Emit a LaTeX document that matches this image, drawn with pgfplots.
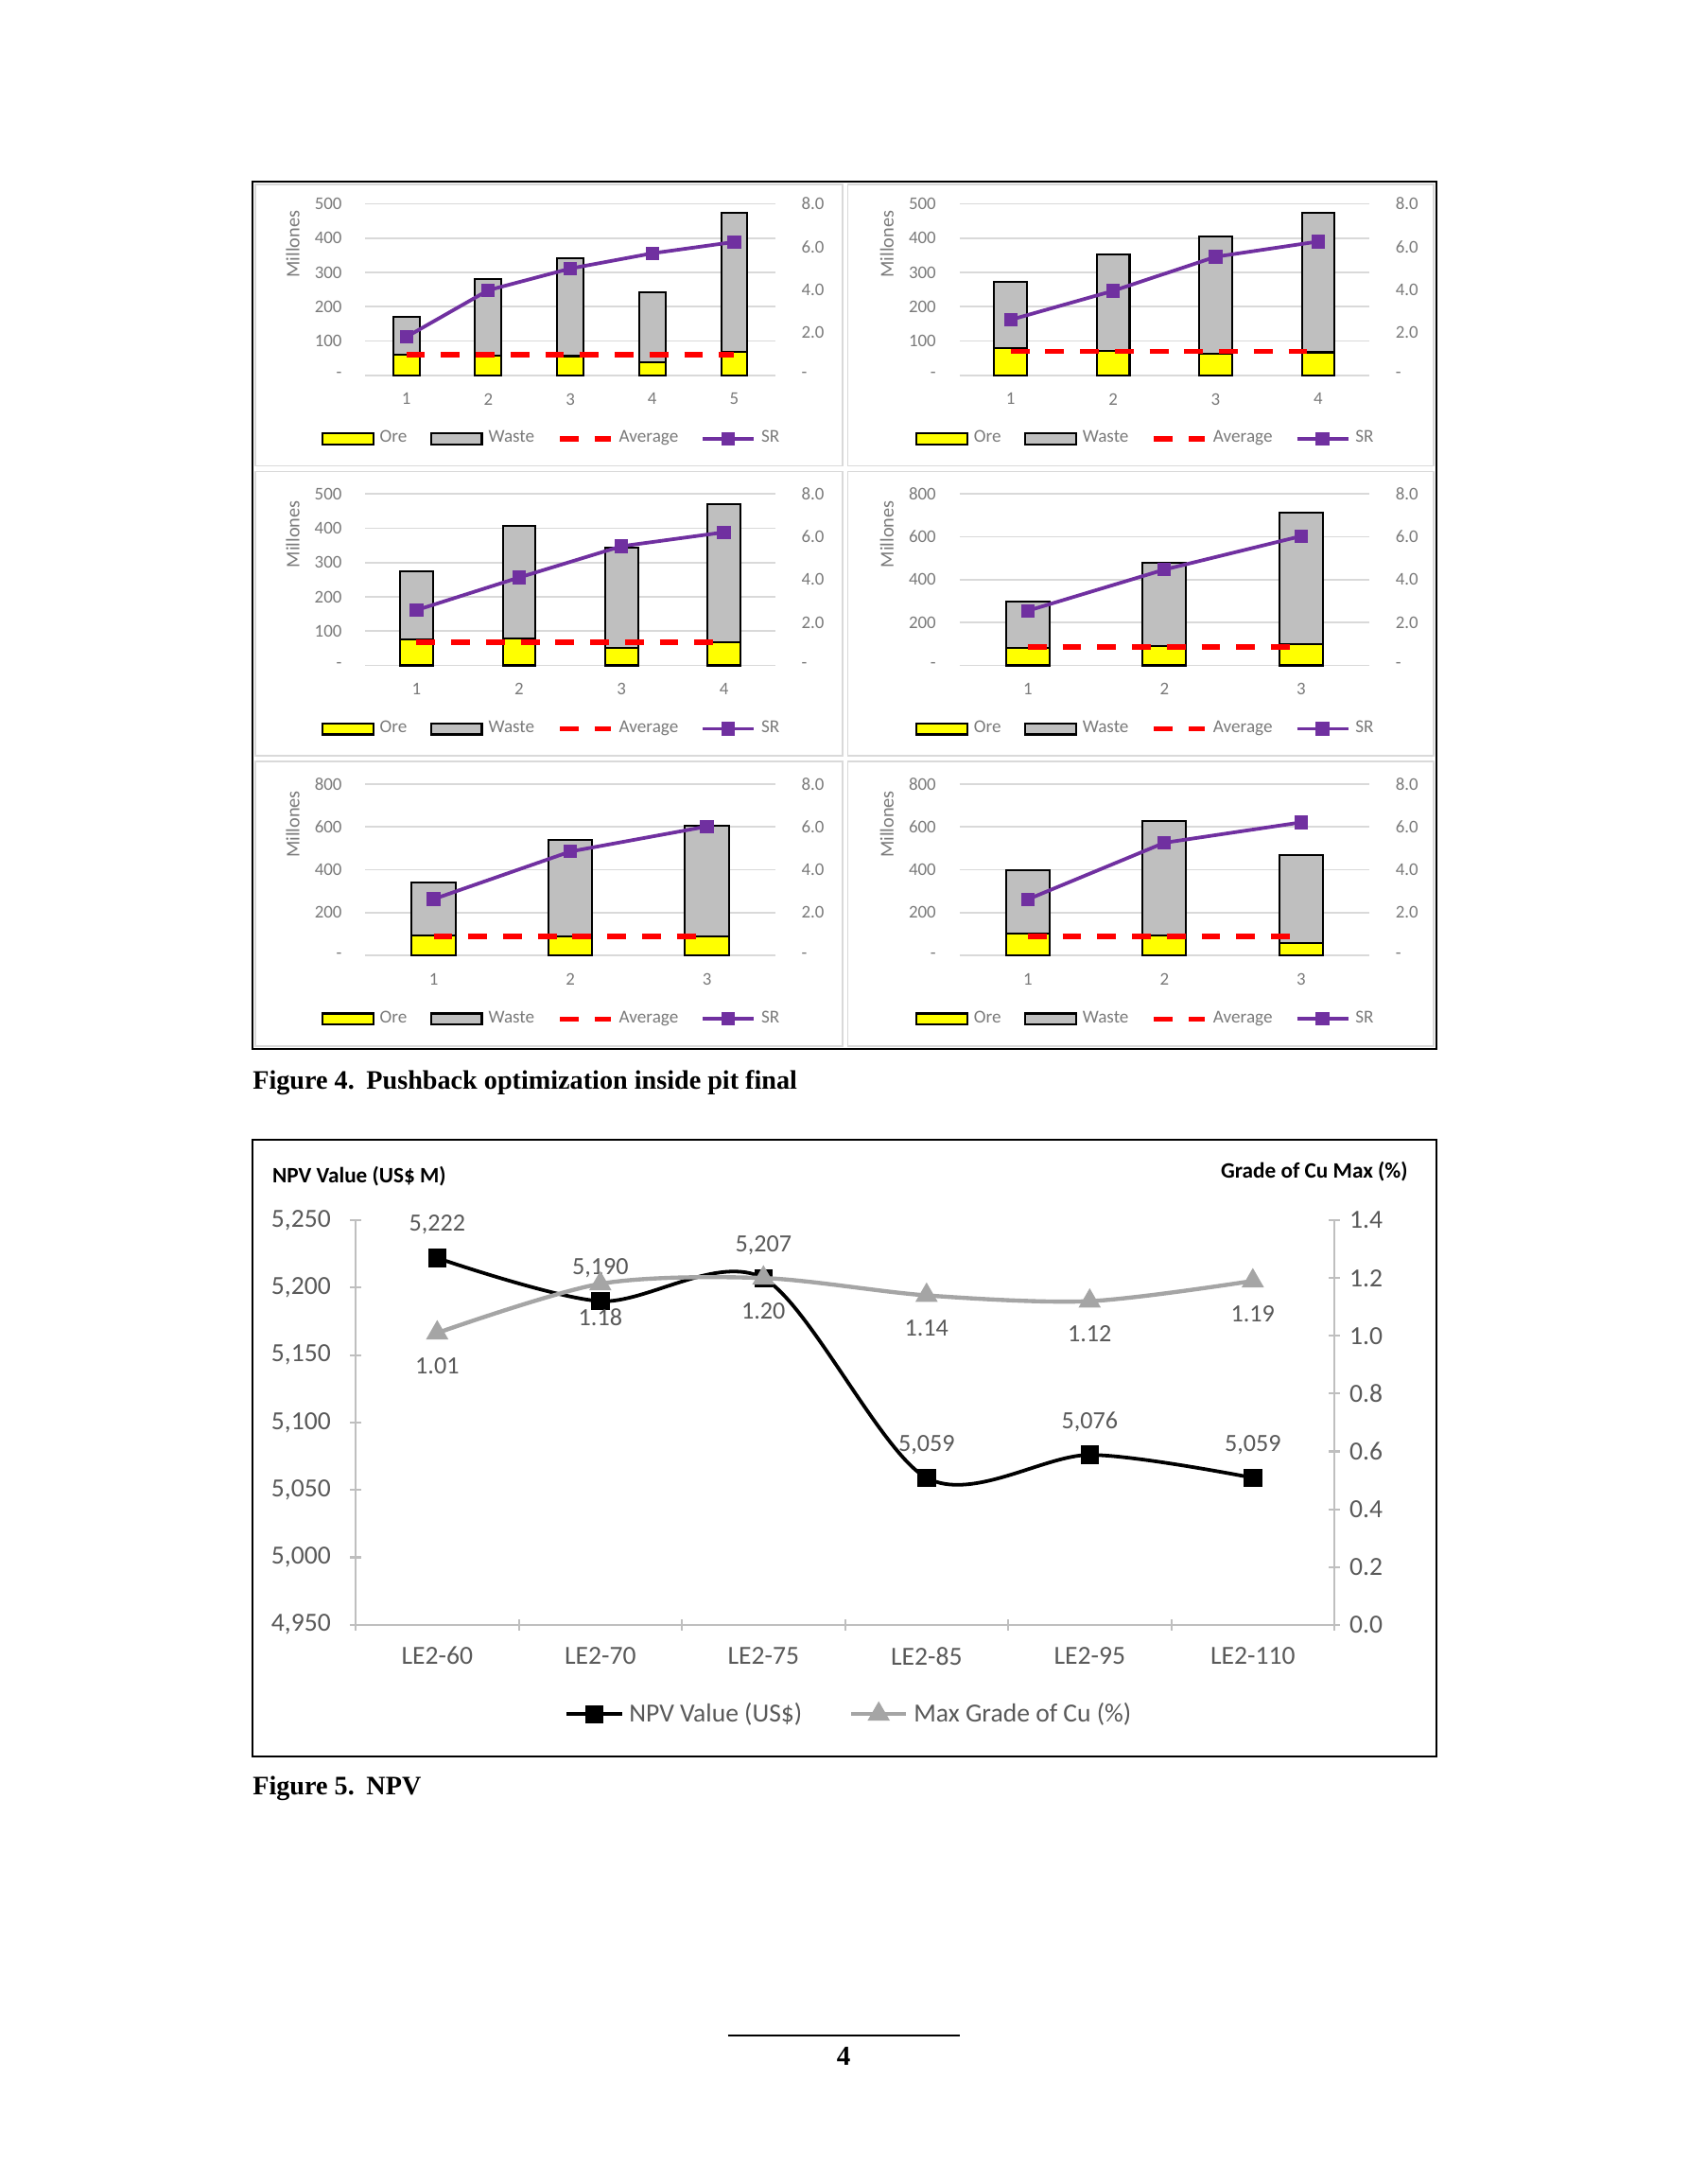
\documentclass[border=0pt]{standalone}
\usepackage{pgfplots}
\pgfplotsset{compat=1.18}
\usepackage{fontspec}
\setmainfont{Liberation Serif}
\newfontfamily\calibri{Carlito}

\definecolor{ore}{HTML}{FFFF00}
\definecolor{waste}{HTML}{BFBFBF}
\definecolor{srpurple}{HTML}{7030A0}
\definecolor{gridgray}{HTML}{D9D9D9}
\definecolor{txtgray}{HTML}{7A7A7A}
\definecolor{axgray}{HTML}{BFBFBF}
\definecolor{npvgray}{HTML}{A5A5A5}
\definecolor{lbl}{HTML}{595959}

\pgfplotsset{
  panelbase/.style={
    scale only axis, width=148.7bp, height=62.2bp,
    anchor=south west, xmin=0.5, ymin=0,
    axis line style={draw=none},
    major tick length=0pt,
    /pgf/number format/assume math mode=true,
    font=\calibri\fontsize{6.5}{7.5}\selectfont,
    ticklabel style={text=txtgray},
  },
  boxlegend/.style={legend image code/.code={%
    \draw[##1,line width=0.8bp] (0bp,-2bp) rectangle (18.5bp,2bp);}},
  linelegend/.style={legend image code/.code={%
    \draw[mark repeat=2,mark phase=2,##1] plot coordinates {(0bp,0bp) (9.25bp,0bp) (18.5bp,0bp)};}},
}

% #1 position, #2 ymax, #3 yticks, #4 ytick labels, #5 number of pushbacks,
% #6 ore, #7 waste, #8 average (right axis units), #9 stripping ratio
\newcommand{\panel}[9]{%
  \pgfmathsetmacro\xmx{#5+0.5}
  \begin{axis}[panelbase, at={(#1)}, xmax=\xmx, ymax=#2, clip=false,
      ytick={#3}, yticklabels={#4}, xtick={1,...,#5},
      ymajorgrids, grid style={gridgray, line width=0.6bp},
      ybar stacked, bar width=0.32,
      yticklabel style={xshift=-5bp}, xticklabel style={yshift=-3bp}]
    \addplot[fill=ore, draw=black, line width=0.7bp] coordinates {#6};
    \addplot[fill=waste, draw=black, line width=0.7bp] coordinates {#7};
    \node[rotate=90, text=txtgray, font=\calibri\fontsize{7}{8}\selectfont]
      at (axis description cs:-0.177,0.765) {Millones};
  \end{axis}
  \begin{axis}[panelbase, at={(#1)}, xmax=\xmx, ymax=8,
      ytick={0,2,4,6,8}, yticklabels={-,2.0,4.0,6.0,8.0},
      axis y line*=right, xtick=\empty,
      yticklabel style={xshift=6bp},
      legend columns=4,
      legend style={at={(axis description cs:-0.109,-0.37)}, anchor=west,
        draw=none, fill=none, inner sep=0pt,
        font=\calibri\fontsize{6.6}{7.5}\selectfont\color{txtgray},
        /tikz/every even column/.append style={column sep=6.3bp}}]
    \addlegendimage{boxlegend, fill=ore, draw=black}
    \addlegendimage{boxlegend, fill=waste, draw=black}
    \addplot[linelegend, red, line width=1.9bp, dash pattern=on 6.8bp off 5.8bp]
      coordinates {(1,#8) (#5,#8)};
    \addplot[linelegend, srpurple, line width=1.3bp, mark=square*, mark size=1.8bp]
      coordinates {#9};
    \legend{Ore,Waste,Average,SR}
  \end{axis}
}

\begin{document}
\begin{tikzpicture}
\fill[white] (0,0) rectangle (612bp,-792bp);
\useasboundingbox (0,0) rectangle (612bp,-792bp);

% figure 4 frame and chart borders
\draw[gridgray, line width=0.6bp] (92.6bp,-66.8bp) rectangle (305.5bp,-168.9bp);
\draw[gridgray, line width=0.6bp] (307.5bp,-66.8bp) rectangle (520bp,-168.9bp);
\draw[gridgray, line width=0.6bp] (92.6bp,-171bp) rectangle (305.5bp,-274.1bp);
\draw[gridgray, line width=0.6bp] (307.5bp,-171bp) rectangle (520bp,-274.1bp);
\draw[gridgray, line width=0.6bp] (92.6bp,-276.2bp) rectangle (305.5bp,-379.3bp);
\draw[gridgray, line width=0.6bp] (307.5bp,-276.2bp) rectangle (520bp,-379.3bp);
\draw[black, line width=0.7bp] (91.5bp,-65.8bp) rectangle (521bp,-380.4bp);

\panel{132.5bp,-136.1bp}{500}{0,100,...,500}{-,100,200,300,400,500}{5}
  {(1,60) (2,57) (3,56) (4,37) (5,68)}
  {(1,110) (2,223) (3,285) (4,206) (5,405)}
  {0.96}
  {(1,1.79) (2,3.97) (3,4.98) (4,5.69) (5,6.22)}

\panel{348bp,-136.1bp}{500}{0,100,...,500}{-,100,200,300,400,500}{4}
  {(1,79) (2,72) (3,63) (4,67)}
  {(1,194) (2,280) (3,341) (4,406)}
  {1.11}
  {(1,2.59) (2,3.94) (3,5.53) (4,6.24)}

\panel{132.5bp,-241.3bp}{500}{0,100,...,500}{-,100,200,300,400,500}{4}
  {(1,77) (2,79) (3,52) (4,67)}
  {(1,197) (2,327) (3,292) (4,404)}
  {1.08}
  {(1,2.58) (2,4.10) (3,5.56) (4,6.21)}

\panel{348bp,-241.3bp}{800}{0,200,...,800}{-,200,400,600,800}{3}
  {(1,80) (2,89) (3,98)}
  {(1,219) (2,391) (3,613)}
  {0.87}
  {(1,2.55) (2,4.47) (3,6.03)}

\panel{132.5bp,-346.5bp}{800}{0,200,...,800}{-,200,400,600,800}{3}
  {(1,95) (2,89) (3,89)}
  {(1,247) (2,452) (3,518)}
  {0.88}
  {(1,2.63) (2,4.85) (3,6.02)}

\panel{348bp,-346.5bp}{800}{0,200,...,800}{-,200,400,600,800}{3}
  {(1,104) (2,95) (3,58)}
  {(1,294) (2,531) (3,409)}
  {0.88}
  {(1,2.62) (2,5.26) (3,6.21)}

\node[anchor=base west, inner sep=0pt, font=\fontsize{9.7}{12}\selectfont\bfseries]
  at (91.5bp,-395bp) {Figure 4.\hspace{0.45em}Pushback optimization inside pit final};

% figure 5
\draw[black, line width=0.7bp] (91.5bp,-413.2bp) rectangle (521bp,-636.8bp);

\begin{axis}[scale only axis, width=355bp, height=146.7bp,
    anchor=south west, at={(129bp,-589.2bp)},
    xmin=0.5, xmax=6.5, ymin=4950, ymax=5250,
    axis x line*=bottom, axis y line*=left,
    axis line style={draw=axgray, line width=0.7bp},
    tick style={draw=axgray, line width=0.7bp},
    tick align=center, major tick length=4bp, minor tick length=4bp,
    ytick={4950,5000,...,5250},
    yticklabels={{4,950},{5,000},{5,050},{5,100},{5,150},{5,200},{5,250}},
    yticklabel style={xshift=-3.5bp},
    xtick={1,...,6},
    xticklabels={LE2-60,LE2-70,LE2-75,LE2-85,LE2-95,LE2-110},
    xticklabel style={yshift=-2.5bp},
    minor xtick={0.5,1.5,...,6.5},
    major x tick style={draw=none},
    font=\calibri\fontsize{9.5}{11}\selectfont,
    ticklabel style={text=lbl},
    nodes near coords={\pgfmathprintnumber[assume math mode=true,1000 sep={,}]{\pgfplotspointmeta}},
    every node near coord/.append style={anchor=center, yshift=12bp, text=lbl,
      font=\calibri\fontsize{9}{10}\selectfont}]
  \addplot[black, line width=1.3bp, smooth, mark=square*, mark size=2.7bp,
      mark options={solid}]
    coordinates {(1,5222) (2,5190) (3,5207) (4,5059) (5,5076) (6,5059)};
\end{axis}

\begin{axis}[scale only axis, width=355bp, height=146.7bp,
    anchor=south west, at={(129bp,-589.2bp)},
    xmin=0.5, xmax=6.5, ymin=0, ymax=1.4,
    axis y line*=right, axis x line=none,
    axis line style={draw=axgray, line width=0.7bp},
    tick style={draw=axgray, line width=0.7bp},
    tick align=center, major tick length=4bp,
    ytick={0,0.2,...,1.4},
    yticklabels={0.0,0.2,0.4,0.6,0.8,1.0,1.2,1.4},
    font=\calibri\fontsize{9.5}{11}\selectfont,
    ticklabel style={text=lbl},
    nodes near coords={\pgfmathprintnumber[assume math mode=true,fixed,fixed zerofill,precision=2]{\pgfplotspointmeta}},
    every node near coord/.append style={anchor=center, yshift=-12bp, text=lbl,
      font=\calibri\fontsize{9}{10}\selectfont},
    legend image code/.code={%
      \draw[mark repeat=2,mark phase=2,#1] plot coordinates {(0bp,0bp) (10bp,0bp) (20bp,0bp)};},
    legend columns=2,
    legend style={at={(0.506,-0.221)}, anchor=center, draw=none, fill=none,
      inner sep=0pt, font=\calibri\fontsize{9.5}{11}\selectfont\color{lbl},
      /tikz/every even column/.append style={column sep=15bp}}]
  \addlegendimage{black, line width=1.3bp, mark=square*, mark size=2.7bp}
  \addplot[npvgray, line width=1.5bp, smooth, mark=triangle*, mark size=3.2bp]
    coordinates {(1,1.01) (2,1.18) (3,1.20) (4,1.14) (5,1.12) (6,1.19)};
  \legend{NPV Value (US\$),Max Grade of Cu (\%)}
\end{axis}

\node[anchor=west, font=\calibri\bfseries\fontsize{8}{9}\selectfont, inner sep=0pt]
  at (98.6bp,-426.4bp) {NPV Value (US\$ M)};
\node[anchor=east, font=\calibri\bfseries\fontsize{8}{9}\selectfont, inner sep=0pt]
  at (510.8bp,-424.9bp) {Grade of Cu Max (\%)};

\node[anchor=base west, inner sep=0pt, font=\fontsize{9.7}{12}\selectfont\bfseries]
  at (91.5bp,-651bp) {Figure 5.\hspace{0.45em}NPV};

% page footer
\draw[black, line width=0.7bp] (264bp,-738bp) -- (348bp,-738bp);
\node[font=\fontsize{10}{12}\selectfont\bfseries] at (306bp,-745.5bp) {4};
\end{tikzpicture}
\end{document}
